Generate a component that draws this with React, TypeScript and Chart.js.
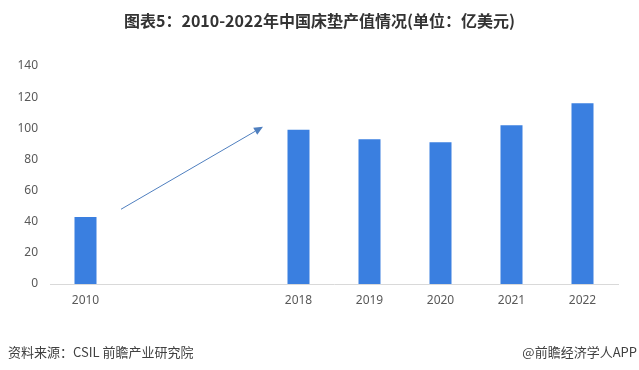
import React, { useEffect, useRef } from "react";
import { Chart, registerables } from "chart.js";

Chart.register(...registerables);

const TITLE = "图表5：2010-2022年中国床垫产值情况(单位：亿美元)";
const SOURCE = "资料来源：CSIL 前瞻产业研究院";
const CREDIT = "@前瞻经济学人APP";

const categories = ["2010", "", "", "2018", "2019", "2020", "2021", "2022"];
const values: (number | null)[] = [43, null, null, 99, 93, 91, 102, 116];
const yTicks = [0, 20, 40, 60, 80, 100, 120, 140];
// arrow annotation in data coordinates: [category index, value]
const arrowFrom = [0.5, 48];
const arrowTo = [2.5, 101];

const BAR_COLOR = "#3a7fe0";
const ARROW_COLOR = "#4f7fbf";
const TICK_FONT = "'Noto Sans', 'Noto Sans CJK SC', sans-serif";
const CJK_FONT = "'Noto Sans CJK SC', 'Noto Sans', sans-serif";

const arrowPlugin = {
  id: "trendArrow",
  afterDatasetsDraw(chart: any) {
    const { ctx, scales } = chart;
    const x1 = scales.x.getPixelForValue(arrowFrom[0]);
    const y1 = scales.y.getPixelForValue(arrowFrom[1]);
    const x2 = scales.x.getPixelForValue(arrowTo[0]);
    const y2 = scales.y.getPixelForValue(arrowTo[1]);
    const ang = Math.atan2(y2 - y1, x2 - x1);
    const head = 9;
    const half = 4;
    const bx = x2 - head * Math.cos(ang);
    const by = y2 - head * Math.sin(ang);
    ctx.save();
    ctx.strokeStyle = ARROW_COLOR;
    ctx.fillStyle = ARROW_COLOR;
    ctx.lineWidth = 1;
    ctx.beginPath();
    ctx.moveTo(x1, y1);
    ctx.lineTo(bx, by);
    ctx.stroke();
    ctx.beginPath();
    ctx.moveTo(x2, y2);
    ctx.lineTo(bx + half * Math.sin(ang), by - half * Math.cos(ang));
    ctx.lineTo(bx - half * Math.sin(ang), by + half * Math.cos(ang));
    ctx.closePath();
    ctx.fill();
    ctx.restore();
  },
};

export default function App() {
  const canvasRef = useRef<HTMLCanvasElement | null>(null);

  useEffect(() => {
    document.body.style.margin = "0";
    const canvas = canvasRef.current;
    if (!canvas) return;
    const chart = new Chart(canvas, {
      type: "bar",
      data: {
        labels: categories,
        datasets: [
          {
            data: values,
            backgroundColor: BAR_COLOR,
            borderWidth: 0,
            barPercentage: 0.31,
            categoryPercentage: 1,
          },
        ],
      },
      plugins: [arrowPlugin],
      options: {
        animation: false,
        responsive: false,
        maintainAspectRatio: false,
        layout: { padding: { top: 66, right: 21, bottom: 56, left: 0 } },
        plugins: {
          legend: { display: false },
          title: { display: false },
          tooltip: { enabled: false },
        },
        scales: {
          x: {
            grid: { display: false, drawTicks: false },
            border: { display: true, color: "#d9d9d9", width: 1 },
            ticks: {
              color: "#595959",
              font: { family: TICK_FONT, size: 12 },
              padding: 9,
              maxRotation: 0,
              autoSkip: false,
            },
            afterFit(scale: any) {
              scale.height = 30;
            },
          },
          y: {
            min: 0,
            max: 140,
            afterBuildTicks(scale: any) {
              scale.ticks = yTicks.map((v) => ({ value: v }));
            },
            grid: { display: false, drawTicks: false },
            border: { display: false },
            ticks: {
              color: "#595959",
              font: { family: TICK_FONT, size: 12 },
              padding: 12,
            },
            afterFit(scale: any) {
              scale.width = 50;
            },
          },
        },
      },
    });
    return () => chart.destroy();
  }, []);

  return (
    <div
      style={{
        position: "absolute",
        left: 0,
        top: 0,
        width: 639,
        height: 370,
        background: "#ffffff",
        overflow: "hidden",
      }}
    >
      <canvas ref={canvasRef} width={639} height={370} style={{ position: "absolute", left: 0, top: 0 }} />
      <div
        style={{
          position: "absolute",
          left: 0,
          top: 9,
          width: 639,
          textAlign: "center",
          fontFamily: CJK_FONT,
          fontWeight: 700,
          fontSize: 16,
          lineHeight: "22px",
          color: "#333333",
        }}
      >
        {TITLE}
      </div>
      <div
        style={{
          position: "absolute",
          left: 8,
          top: 343,
          fontFamily: CJK_FONT,
          fontSize: 13,
          lineHeight: "18px",
          color: "#404040",
          whiteSpace: "nowrap",
        }}
      >
        {SOURCE}
      </div>
      <div
        style={{
          position: "absolute",
          right: 2,
          top: 343,
          fontFamily: CJK_FONT,
          fontSize: 13,
          lineHeight: "18px",
          color: "#404040",
          whiteSpace: "nowrap",
        }}
      >
        {CREDIT}
      </div>
    </div>
  );
}
